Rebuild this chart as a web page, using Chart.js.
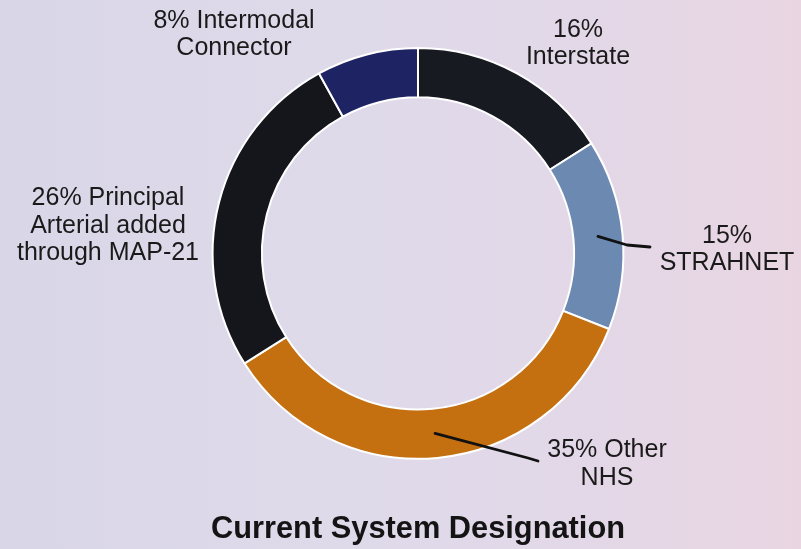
<!DOCTYPE html>
<html>
<head>
<meta charset="utf-8">
<script src="https://cdn.jsdelivr.net/npm/chart.js@4"></script>
<style>
html, body { margin: 0; padding: 0; }
body {
    width: 801px;
    height: 549px;
    overflow: hidden;
    background: linear-gradient(90deg, #d9d6e7 0%, #dedaea 40%, #e2d8e8 70%, #e9d5e2 100%);
}
</style>
</head>
<body>
<canvas id="chart" width="801" height="549"></canvas>
<script>
// data
const categories = ['Interstate', 'STRAHNET', 'Other NHS', 'Principal Arterial added through MAP-21', 'Intermodal Connector'];
const shares = [16, 15, 35, 26, 8];
const labelLines = [
    ['16%', 'Interstate'],
    ['15%', 'STRAHNET'],
    ['35% Other', 'NHS'],
    ['26% Principal', 'Arterial added', 'through MAP-21'],
    ['8% Intermodal', 'Connector']
];
const sliceColors = ['#181a22', '#6c89b1', '#c46f10', '#14161c', '#1e2363'];

// where each label block sits (center x, first baseline, line step)
const labelPlace = [
    { x: 578, y: 37, step: 27 },
    { x: 727, y: 243, step: 27 },
    { x: 607, y: 457, step: 28 },
    { x: 108, y: 205, step: 27.5 },
    { x: 234, y: 28, step: 27 }
];
// leader lines start at slice middle, then go through these points
const leaders = {
    1: [[627, 245], [650, 247]],
    2: [[528, 458], [538, 461]]
};

const outsideLabels = {
    id: 'outsideLabels',
    afterDatasetsDraw(chart) {
        const ctx = chart.ctx;
        const arcs = chart.getDatasetMeta(0).data;
        ctx.save();
        ctx.strokeStyle = '#111';
        ctx.lineWidth = 2.8;
        ctx.lineCap = 'round';
        ctx.lineJoin = 'round';
        Object.keys(leaders).forEach(function(k) {
            const p = arcs[k].tooltipPosition();
            ctx.beginPath();
            ctx.moveTo(p.x, p.y);
            leaders[k].forEach(function(pt) { ctx.lineTo(pt[0], pt[1]); });
            ctx.stroke();
        });
        ctx.fillStyle = '#1a1a1a';
        ctx.font = '25px "Liberation Sans", Arial, sans-serif';
        ctx.textAlign = 'center';
        ctx.textBaseline = 'alphabetic';
        labelLines.forEach(function(lines, i) {
            const pl = labelPlace[i];
            lines.forEach(function(t, j) {
                ctx.fillText(t, pl.x, pl.y + j * pl.step);
            });
        });
        ctx.restore();
    }
};

const ctx = document.getElementById('chart').getContext('2d');
const myChart = new Chart(ctx, {
    type: 'doughnut',
    data: {
        labels: categories,
        datasets: [{
            data: shares,
            backgroundColor: sliceColors,
            borderColor: '#ffffff',
            borderWidth: 2
        }]
    },
    options: {
        responsive: false,
        animation: false,
        cutout: '76%',
        layout: {
            padding: { left: 211, right: 176, top: 47, bottom: 0 }
        },
        plugins: {
            legend: { display: false },
            tooltip: { enabled: false },
            title: {
                display: true,
                position: 'bottom',
                text: 'Current System Designation',
                color: '#141414',
                font: { family: '"Liberation Sans", Arial, sans-serif', size: 31, weight: 'bold' },
                padding: { top: 51, bottom: 1 }
            }
        }
    },
    plugins: [outsideLabels]
});
</script>
</body>
</html>
